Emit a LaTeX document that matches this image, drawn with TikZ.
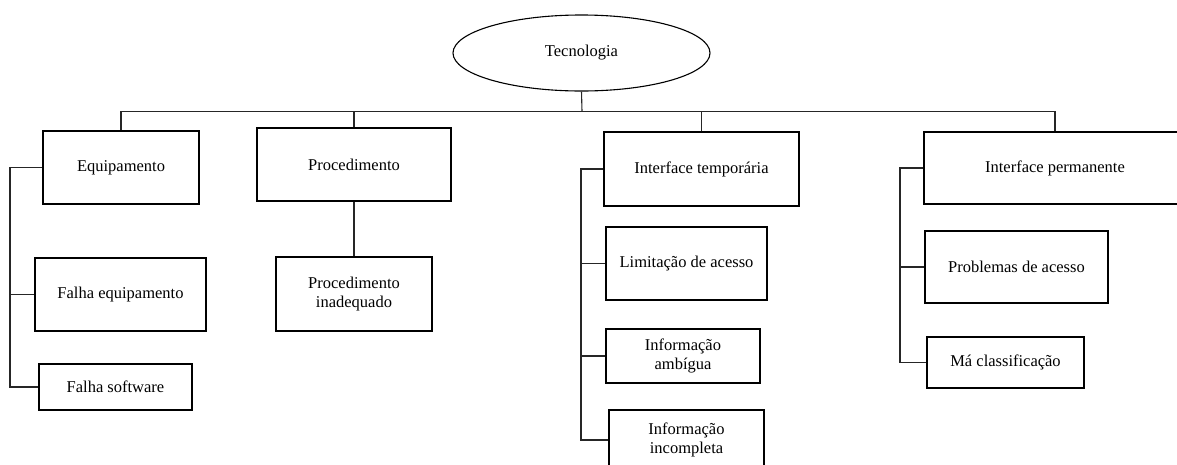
\documentclass[tikz,border=0pt]{standalone}
\usepackage{fontspec}
\setmainfont{Liberation Serif}
\newfontfamily\boxfont{Liberation Serif}
\usetikzlibrary{shapes.geometric}

\begin{document}
\begin{tikzpicture}[x=1pt, y=-1pt,
  line width=1.1pt,
  every node/.style={font=\boxfont\fontsize{16.5}{18.5}\selectfont, align=center, inner sep=0pt},
  box/.style={draw, rectangle, minimum width=#1},
  box/.default=150pt,
  link/.style={draw=black!85, line width=1.1pt}
]
\useasboundingbox (0,0) rectangle (1177,464);
\clip (0,0) rectangle (1177,464);

% root
\node[draw, ellipse, minimum width=257pt, minimum height=76pt] (tec) at (581.5,53) {Tecnologia};

% first level
\node[box=156pt, minimum height=73pt] (equip) at (121,167.5) {Equipamento};
\node[box=194pt, minimum height=73pt] (proc) at (354,164.5) {Procedimento};
\node[box=195pt, minimum height=74pt] (inttemp) at (701.5,169) {Interface temporária};
\node[box=262pt, minimum height=72pt] (intperm) at (1055,168) {Interface permanente};

% Equipamento
\node[box=171pt, minimum height=73pt] (falhaeq) at (120.5,294.5) {Falha equipamento};
\node[box=153pt, minimum height=46pt] (falhasw) at (115.5,387) {Falha software};

% Procedimento
\node[box=156pt, minimum height=74pt] (procinad) at (354,294) {Procedimento\\inadequado};

% Interface temporária
\node[box=161pt, minimum height=73pt] (limit) at (686.5,263.5) {Limitação de acesso};
\node[box=154pt, minimum height=54pt] (ambig) at (683,356) {Informação\\ambígua};
\node[box=155pt, minimum height=60pt] (incomp) at (686.5,440) {Informação\\incompleta};

% Interface permanente
\node[box=183pt, minimum height=72pt] (probl) at (1016.5,267) {Problemas de acesso};
\node[box=157pt, minimum height=51pt] (ma) at (1005.5,362.5) {Má classificação};

% bus under the root
\coordinate (bus) at (582,111.5);
\draw[link] (tec.south) -- (bus);
\draw[link] (equip.north) |- (bus);
\draw[link] (proc.north) |- (bus);
\draw[link] (inttemp.north) |- (bus);
\draw[link] (intperm.north) |- (bus);

% side spines
\coordinate (s1) at (10,167.5);
\draw[link] (equip.west) -- (s1) |- (falhasw.west);
\draw[link] (s1) |- (falhaeq.west);

\draw[link] (proc.south) -- (procinad.north);

\coordinate (s3) at (581,169);
\draw[link] (inttemp.west) -- (s3) |- (incomp.west);
\draw[link] (s3) |- (limit.west);
\draw[link] (s3) |- (ambig.west);

\coordinate (s4) at (900,168);
\draw[link] (intperm.west) -- (s4) |- (ma.west);
\draw[link] (s4) |- (probl.west);
\end{tikzpicture}
\end{document}
